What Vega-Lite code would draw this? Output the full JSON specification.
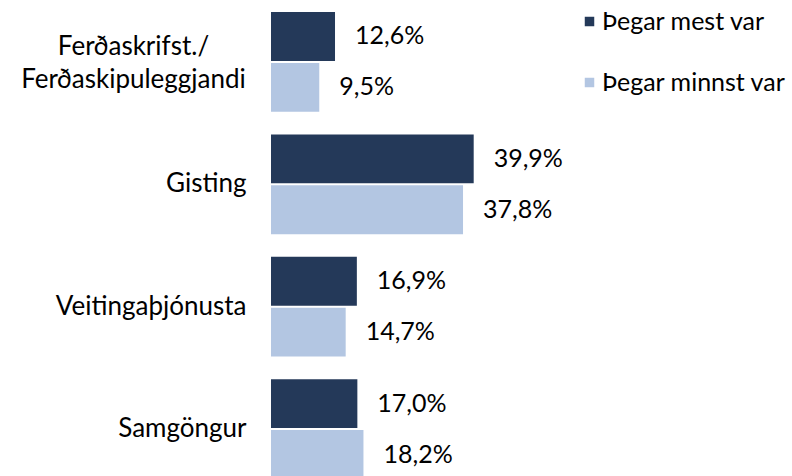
{
  "$schema": "https://vega.github.io/schema/vega-lite/v6.json",
  "width": 508,
  "height": 491,
  "autosize": {"type": "none"},
  "padding": {"left": 271, "top": 0, "right": 13, "bottom": 0},
  "config": {
    "view": {"stroke": null},
    "font": "Lato",
    "locale": {"number": {"decimal": ",", "thousands": ".", "grouping": [3], "currency": ["", " kr"]}}
  },
  "data": {
    "values": [
      {"cat": "Ferðaskrifst./ Ferðaskipuleggjandi", "series": "Þegar mest var", "value": 0.126},
      {"cat": "Ferðaskrifst./ Ferðaskipuleggjandi", "series": "Þegar minnst var", "value": 0.095},
      {"cat": "Gisting", "series": "Þegar mest var", "value": 0.399},
      {"cat": "Gisting", "series": "Þegar minnst var", "value": 0.378},
      {"cat": "Veitingaþjónusta", "series": "Þegar mest var", "value": 0.169},
      {"cat": "Veitingaþjónusta", "series": "Þegar minnst var", "value": 0.147},
      {"cat": "Samgöngur", "series": "Þegar mest var", "value": 0.170},
      {"cat": "Samgöngur", "series": "Þegar minnst var", "value": 0.182}
    ]
  },
  "encoding": {
    "y": {
      "field": "cat", "type": "nominal", "sort": null,
      "scale": {"paddingInner": 0.184, "paddingOuter": 0.098}
    },
    "yOffset": {
      "field": "series", "type": "nominal", "sort": ["Þegar mest var", "Þegar minnst var"],
      "scale": {"paddingInner": 0.04}
    },
    "x": {
      "field": "value", "type": "quantitative",
      "scale": {"domain": [0, 1], "nice": false}, "axis": null
    }
  },
  "layer": [
    {
      "mark": {"type": "bar"},
      "encoding": {
        "y": {
          "field": "cat", "type": "nominal", "sort": null,
          "axis": {
            "orient": "left", "title": null, "domain": false, "ticks": false,
            "labelFontSize": 26, "labelColor": "#000000", "labelPadding": 25,
            "labelAlign": "right", "labelLimit": 300,
            "labelExpr": "indexof(datum.value, 'Ferð') == 0 ? '' : datum.label"
          }
        },
        "color": {
          "field": "series", "type": "nominal",
          "scale": {"domain": ["Þegar mest var", "Þegar minnst var"], "range": ["#243959", "#B3C6E2"]},
          "legend": {
            "title": null, "orient": "none", "legendX": 306, "legendY": 9,
            "symbolType": "square", "symbolSize": 90, "symbolStrokeWidth": 0,
            "labelFontSize": 25, "labelColor": "#000000", "labelOffset": 0,
            "rowPadding": 35, "labelLimit": 300
          }
        }
      }
    },
    {
      "mark": {"type": "text", "align": "left", "baseline": "middle", "dx": 20, "fontSize": 25, "color": "#000000"},
      "encoding": {
        "y": {
          "field": "cat", "type": "nominal", "sort": null,
          "axis": {
            "orient": "left", "title": null, "domain": false, "ticks": false,
            "labelFontSize": 26, "labelColor": "#000000", "labelPadding": 138,
            "labelAlign": "center", "labelLimit": 300, "labelLineHeight": 33,
            "labelOffset": -15,
            "labelExpr": "indexof(datum.value, 'Ferð') == 0 ? ['Ferðaskrifst./', 'Ferðaskipuleggjandi'] : ''"
          }
        },
        "text": {"field": "value", "type": "quantitative", "format": ".1%"}
      }
    }
  ],
  "resolve": {"axis": {"y": "independent"}}
}
